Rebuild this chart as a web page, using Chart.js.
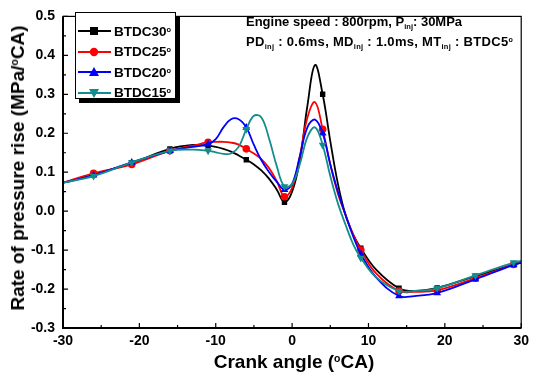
<!DOCTYPE html>
<html>
<head>
<meta charset="utf-8">
<script src="https://cdn.jsdelivr.net/npm/chart.js@4.4.1/dist/chart.umd.min.js"></script>
<style>
    body { margin: 0; background: #fff; }
    #wrap { position: relative; width: 534px; height: 376px; font-family: "Liberation Sans", Arial, sans-serif; font-weight: bold; color: #000; }
    #chart { position: absolute; left: 0; top: 0; }
    .note { position: absolute; font-size: 13px; white-space: nowrap; }
    .note sub { font-size: 7.5px; vertical-align: -3px; }
    .note sup, .leg sup, .title sup { font-size: 0.55em; vertical-align: 0.6em; }
    #legend { position: absolute; left: 75px; top: 12px; width: 99px; height: 85px; border: 1px solid #000; background: #fff; box-shadow: 4px 4px 0 #000; }
    .leg { position: absolute; left: 0; height: 20px; display: flex; align-items: center; font-size: 13.5px; }
    .leg svg { margin-left: 2px; margin-right: 3px; }
    .title { position: absolute; font-size: 19px; white-space: nowrap; }
    #ytitle { left: 18px; top: 168px; transform: translate(-50%, -50%) rotate(-90deg); }
    #xtitle { left: 294px; top: 362px; transform: translate(-50%, -50%); }
</style>
</head>
<body>
<div id="wrap">
    <canvas id="chart" width="534" height="376"></canvas>
    <div class="note" style="left:246px; top:14px;">Engine speed : 800rpm, P<sub>inj</sub>: 30MPa</div>
    <div class="note" style="left:246px; top:34px; letter-spacing:0.3px;">PD<sub>inj</sub> : 0.6ms, MD<sub>inj</sub> : 1.0ms, MT<sub>inj</sub> : BTDC5<sup>o</sup></div>
    <div id="legend"></div>
    <div class="title" id="ytitle">Rate of pressure rise (MPa/<sup>o</sup>CA)</div>
    <div class="title" id="xtitle">Crank angle (<sup>o</sup>CA)</div>
</div>
<script>
// Data (crank angle in degCA, ROPR in MPa/degCA)
const crankAngle = [-30, -26, -21, -16, -13, -11, -10, -9, -8, -7, -6, -5, -4, -3, -2, -1,
    0, 1, 2, 3, 4, 5, 6, 7, 8, 9, 11, 14, 16, 19, 24, 29, 30];
const markerAngles = [-26, -21, -16, -11, -6, -1, 4, 9, 14, 19, 24, 29];

const btdc30 = [0.073, 0.094, 0.124, 0.160, 0.170, 0.168, 0.165, 0.160, 0.153, 0.143, 0.132, 0.120, 0.104, 0.083, 0.055, 0.023,
    0.050, 0.130, 0.270, 0.375, 0.300, 0.180, 0.070, -0.010, -0.060, -0.095, -0.150, -0.198, -0.205, -0.197, -0.167, -0.137, -0.132];
const btdc25 = [0.073, 0.097, 0.120, 0.155, 0.168, 0.177, 0.178, 0.178, 0.176, 0.171, 0.160, 0.148, 0.133, 0.110, 0.077, 0.037,
    0.060, 0.140, 0.240, 0.280, 0.210, 0.120, 0.045, -0.010, -0.060, -0.100, -0.160, -0.205, -0.207, -0.203, -0.172, -0.137, -0.130];
const btdc20 = [0.073, 0.092, 0.125, 0.155, 0.165, 0.172, 0.185, 0.215, 0.236, 0.236, 0.215, 0.170, 0.130, 0.100, 0.075, 0.055,
    0.070, 0.140, 0.215, 0.235, 0.200, 0.120, 0.050, -0.010, -0.065, -0.110, -0.170, -0.218, -0.218, -0.210, -0.175, -0.138, -0.132];
const btdc15 = [0.073, 0.090, 0.125, 0.155, 0.158, 0.155, 0.151, 0.147, 0.148, 0.165, 0.210, 0.245, 0.240, 0.185, 0.115, 0.063,
    0.070, 0.120, 0.190, 0.215, 0.170, 0.090, 0.020, -0.035, -0.085, -0.120, -0.170, -0.205, -0.205, -0.198, -0.165, -0.132, -0.128];

const seriesNames = ['BTDC30', 'BTDC25', 'BTDC20', 'BTDC15'];
const seriesValues = [btdc30, btdc25, btdc20, btdc15];
const seriesColors = ['#000000', '#ff0000', '#0000ff', '#128c8c'];
const seriesMarkers = ['rect', 'circle', 'triangle', 'triangle'];
const seriesRotation = [0, 0, 0, 180];

const xTicks = [-30, -20, -10, 0, 10, 20, 30];
const yTicks = [-0.3, -0.2, -0.1, 0.0, 0.1, 0.2, 0.3, 0.4, 0.5];

// frame + inward tick marks
const framePlugin = {
    id: 'frame',
    afterDraw(chart) {
        const { ctx, chartArea: a, scales } = chart;
        ctx.save();
        ctx.strokeStyle = '#000';
        ctx.lineWidth = 1.2;
        ctx.strokeRect(a.left, a.top, a.right - a.left, a.bottom - a.top);
        ctx.lineWidth = 2;
        ctx.beginPath();
        ctx.moveTo(a.left, a.top);
        ctx.lineTo(a.left, a.bottom);
        ctx.lineTo(a.right, a.bottom);
        ctx.stroke();
        ctx.lineWidth = 1.2;
        ctx.beginPath();
        for (let v = -30; v <= 30; v += 5) {
            const x = scales.x.getPixelForValue(v);
            const len = v % 10 === 0 ? 5 : 3;
            ctx.moveTo(x, a.bottom);
            ctx.lineTo(x, a.bottom - len);
        }
        for (let i = 0; i <= 16; i++) {
            const v = -0.3 + i * 0.05;
            const y = scales.y.getPixelForValue(v);
            const len = i % 2 === 0 ? 5 : 3;
            ctx.moveTo(a.left, y);
            ctx.lineTo(a.left + len, y);
        }
        ctx.stroke();
        ctx.restore();
    }
};

const datasets = seriesNames.map((name, i) => ({
    label: name,
    data: crankAngle.map((x, k) => ({ x: x, y: seriesValues[i][k] })),
    borderColor: seriesColors[i],
    backgroundColor: seriesColors[i],
    borderWidth: 1.8,
    tension: 0.4,
    pointStyle: seriesMarkers[i],
    rotation: seriesRotation[i],
    pointRadius: ctx => markerAngles.includes(ctx.raw.x) ? (seriesMarkers[i] === 'triangle' ? 4.5 : 3.8) : 0,
    pointBorderWidth: 0,
    order: 3 - i
}));

new Chart(document.getElementById('chart'), {
    type: 'line',
    data: { datasets },
    options: {
        responsive: false,
        animation: false,
        layout: { padding: { top: 11, right: 9, left: 0, bottom: 0 } },
        plugins: { legend: { display: false }, tooltip: { enabled: false } },
        scales: {
            x: {
                type: 'linear',
                min: -30,
                max: 30,
                afterBuildTicks: s => { s.ticks = xTicks.map(v => ({ value: v })); },
                afterFit: s => { s.height = 48; },
                grid: { display: false, drawTicks: false },
                border: { display: false },
                ticks: { color: '#000', padding: 5, font: { family: 'Liberation Sans', size: 14, weight: 'bold' } }
            },
            y: {
                min: -0.3,
                max: 0.5,
                afterBuildTicks: s => { s.ticks = yTicks.map(v => ({ value: v })); },
                afterFit: s => { s.width = 63; },
                grid: { display: false, drawTicks: false },
                border: { display: false },
                ticks: {
                    color: '#000', padding: 8,
                    font: { family: 'Liberation Sans', size: 14, weight: 'bold' },
                    callback: v => Math.abs(v) < 1e-9 ? '0.0' : v.toFixed(1)
                }
            }
        }
    },
    plugins: [framePlugin]
});

// legend
const legend = document.getElementById('legend');
seriesNames.forEach((name, i) => {
    let marker;
    const c = seriesColors[i];
    if (seriesMarkers[i] === 'rect') marker = `<rect x="12" y="6" width="8" height="8" fill="${c}"/>`;
    else if (seriesMarkers[i] === 'circle') marker = `<circle cx="16" cy="10" r="4.2" fill="${c}"/>`;
    else if (seriesRotation[i] === 0) marker = `<polygon points="16,5 21,14 11,14" fill="${c}"/>`;
    else marker = `<polygon points="11,6 21,6 16,15" fill="${c}"/>`;
    const row = document.createElement('div');
    row.className = 'leg';
    row.style.top = (8 + i * 20.5) + 'px';
    row.innerHTML = `<svg width="33" height="20"><line x1="0" y1="10" x2="33" y2="10" stroke="${c}" stroke-width="1.8"/>${marker}</svg><span>${name}<sup>o</sup></span>`;
    legend.appendChild(row);
});
</script>
</body>
</html>
